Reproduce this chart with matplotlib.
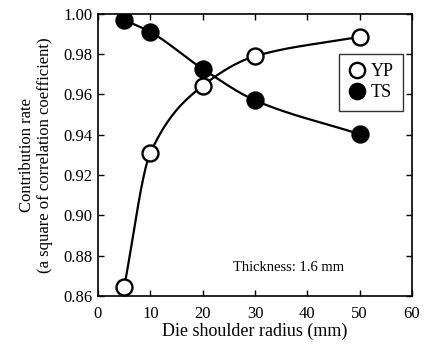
import numpy as np
import matplotlib
matplotlib.use("Agg")
import matplotlib.pyplot as plt
from matplotlib.lines import Line2D

radius = [5, 10, 20, 30, 50]
yp = [0.8645, 0.931, 0.9643, 0.979, 0.9886]
ts = [0.997, 0.991, 0.9727, 0.9571, 0.9403]
xticks = [0, 10, 20, 30, 40, 50, 60]
yticks = [0.86, 0.88, 0.90, 0.92, 0.94, 0.96, 0.98, 1.00]

plt.rcParams['font.family'] = ['Liberation Serif', 'DejaVu Serif']


def pchip(x, y, n=200):
    x = np.asarray(x, float); y = np.asarray(y, float)
    h = np.diff(x); d = np.diff(y) / h
    m = np.zeros_like(y)
    for k in range(1, len(x) - 1):
        if d[k-1] * d[k] > 0:
            w1 = 2*h[k] + h[k-1]; w2 = h[k] + 2*h[k-1]
            m[k] = (w1 + w2) / (w1/d[k-1] + w2/d[k])
    m[0] = d[0]; m[-1] = d[-1]
    xs = np.linspace(x[0], x[-1], n)
    idx = np.clip(np.searchsorted(x, xs) - 1, 0, len(x) - 2)
    t = (xs - x[idx]) / h[idx]
    h00 = 2*t**3 - 3*t**2 + 1; h10 = t**3 - 2*t**2 + t
    h01 = -2*t**3 + 3*t**2; h11 = t**3 - t**2
    ys = h00*y[idx] + h10*h[idx]*m[idx] + h01*y[idx+1] + h11*h[idx]*m[idx+1]
    return xs, ys


fig = plt.figure(figsize=(4.27, 3.47), dpi=100)
ax = fig.add_axes([0.2295, 0.147, 0.7355, 0.813])

xs, ys = pchip(radius, yp)
ax.plot(xs, ys, color='black', lw=1.6, zorder=2)
xs, ys = pchip(radius, ts)
ax.plot(xs, ys, color='black', lw=1.6, zorder=2)
ax.plot(radius, yp, 'o', ms=11.5, mfc='white', mec='black', mew=1.7, zorder=3)
ax.plot(radius, ts, 'o', ms=11.5, mfc='black', mec='black', mew=1.7, zorder=3)

ax.set_xlim(0, 60)
ax.set_ylim(0.86, 1.00)
ax.set_xticks(xticks)
ax.set_yticks(yticks)
ax.set_yticklabels([f"{v:.2f}" for v in yticks])
ax.tick_params(direction='in', top=True, right=True, labelsize=12, length=4, width=1)
ax.tick_params(axis='x', pad=7)
ax.tick_params(axis='y', pad=4)
for s in ax.spines.values():
    s.set_linewidth(1.2)

ax.set_xlabel("Die shoulder radius (mm)", fontsize=13, labelpad=1)
ax.set_ylabel("Contribution rate\n(a square of correlation coefficient)", fontsize=12,
              labelpad=7, linespacing=1.2)

ax.text(25.8, 0.8739, "Thickness: 1.6 mm", fontsize=10.5, va='center', ha='left')

handles = [Line2D([], [], marker='o', ls='none', ms=11, mfc='white', mec='black', mew=1.7),
           Line2D([], [], marker='o', ls='none', ms=11, mfc='black', mec='black', mew=1.7)]
leg = ax.legend(handles, ['YP', 'TS'], loc='upper right', bbox_to_anchor=(0.971, 0.858),
                fontsize=13, frameon=True, fancybox=False, edgecolor='black',
                handletextpad=0.25, borderpad=0.5, labelspacing=0.25, handlelength=1.0,
                borderaxespad=0)
leg.get_frame().set_linewidth(1.0)

fig.savefig("out.png", dpi=100)
